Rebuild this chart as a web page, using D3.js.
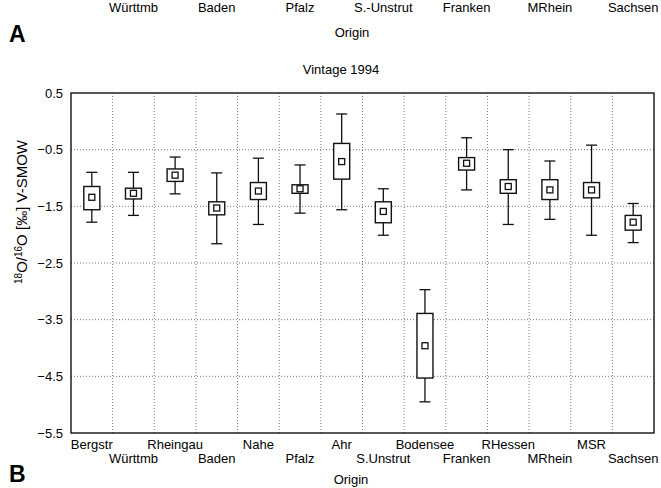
<!DOCTYPE html>
<html>
    <head>
        <script src="https://d3js.org/d3.v7.js"></script>
        <style>
            body { margin: 0; background: white; }
            svg { display: block; font-family: 'Liberation Sans', Arial, sans-serif; }
            .grid { stroke: #777; stroke-width: 1; stroke-dasharray: 1,2; }
        </style>
    </head>
    <body>
        <div class='graph'></div>
        <script>
            const w = 661
            const h = 488

            // box values (per mille V-SMOW)
            const origins = ['Bergstr', 'Württmb', 'Rheingau', 'Baden', 'Nahe', 'Pfalz', 'Ahr',
                             'S.Unstrut', 'Bodensee', 'Franken', 'RHessen', 'MRhein', 'MSR', 'Sachsen']
            const whiskerHigh = [-0.90, -0.90, -0.63, -0.91, -0.65, -0.77, 0.13, -1.19, -2.97, -0.29, -0.50, -0.70, -0.42, -1.45]
            const boxHigh     = [-1.15, -1.18, -0.84, -1.42, -1.08, -1.12, -0.39, -1.42, -3.39, -0.64, -1.03, -1.03, -1.08, -1.66]
            const medians     = [-1.34, -1.27, -0.95, -1.53, -1.23, -1.19, -0.71, -1.59, -3.96, -0.74, -1.15, -1.21, -1.21, -1.78]
            const boxLow      = [-1.56, -1.37, -1.06, -1.65, -1.38, -1.27, -1.02, -1.79, -4.53, -0.86, -1.27, -1.38, -1.35, -1.92]
            const whiskerLow  = [-1.78, -1.66, -1.28, -2.16, -1.82, -1.62, -1.56, -2.01, -4.95, -1.21, -1.82, -1.73, -2.01, -2.14]
            const yTicks = [0.5, -0.5, -1.5, -2.5, -3.5, -4.5, -5.5]

            // lower label row of panel A, cut off at the top of the picture
            const panelALabels = ['Württmb', 'Baden', 'Pfalz', 'S.-Unstrut', 'Franken', 'MRhein', 'Sachsen']

            const margin = {left: 71, right: 7, top: 93, bottom: 55}

            const svg = d3.select('.graph')
                    .append('svg')
                    .attr('width', w)
                    .attr('height', h)

            const x = d3.scaleBand()
                        .domain(origins)
                        .range([margin.left, w - margin.right])

            const y = d3.scaleLinear()
                        .domain([-5.5, 0.5])
                        .range([h - margin.bottom, margin.top])

            const data = origins.map((o, i) => ({
                origin: o, hi: whiskerHigh[i], q3: boxHigh[i], med: medians[i], q1: boxLow[i], lo: whiskerLow[i]
            }))

            // panel A remnants
            svg.selectAll('.alabel')
                .data(panelALabels)
                .enter()
                .append('text')
                .attr('x', (d, i) => x(origins[i * 2 + 1]) + x.bandwidth() / 2)
                .attr('y', 12)
                .attr('text-anchor', 'middle')
                .style('font-size', '13px')
                .text(d => d)

            svg.append('text').attr('x', 352).attr('y', 37)
                .attr('text-anchor', 'middle').style('font-size', '13px').text('Origin')
            svg.append('text').attr('x', 9).attr('y', 42)
                .style('font-size', '23px').style('font-weight', 'bold').text('A')

            // panel B
            svg.append('text').attr('x', 341).attr('y', 74)
                .attr('text-anchor', 'middle').style('font-size', '13px').text('Vintage 1994')

            // grid
            svg.selectAll('.hgrid')
                .data(yTicks.slice(1, -1))
                .enter()
                .append('line')
                .attr('class', 'grid')
                .attr('x1', margin.left).attr('x2', w - margin.right)
                .attr('y1', d => y(d)).attr('y2', d => y(d))

            svg.selectAll('.vgrid')
                .data(origins.slice(1))
                .enter()
                .append('line')
                .attr('class', 'grid')
                .attr('x1', d => x(d)).attr('x2', d => x(d))
                .attr('y1', margin.top).attr('y2', h - margin.bottom)

            // frame
            svg.append('rect')
                .attr('x', margin.left).attr('y', margin.top)
                .attr('width', w - margin.left - margin.right)
                .attr('height', h - margin.top - margin.bottom)
                .attr('fill', 'none').attr('stroke', '#111').attr('stroke-width', 1.4)

            // y axis labels
            svg.selectAll('.ytick')
                .data(yTicks)
                .enter()
                .append('text')
                .attr('x', margin.left - 8)
                .attr('y', d => y(d) + 4.5)
                .attr('text-anchor', 'end')
                .style('font-size', '13px')
                .text(d => d3.format('.1f')(d))

            const ylab = svg.append('text')
                .attr('transform', 'translate(27,' + 212 + ') rotate(-90)')
                .attr('text-anchor', 'middle')
                .style('font-size', '15px')
            ylab.append('tspan').attr('baseline-shift', 'super').style('font-size', '10px').text('18')
            ylab.append('tspan').text('O/')
            ylab.append('tspan').attr('baseline-shift', 'super').style('font-size', '10px').text('16')
            ylab.append('tspan').text('O [‰] V-SMOW')

            // x labels, two alternating rows
            svg.selectAll('.xlabel')
                .data(origins)
                .enter()
                .append('text')
                .attr('x', d => x(d) + x.bandwidth() / 2)
                .attr('y', (d, i) => i % 2 === 0 ? 449 : 463)
                .attr('text-anchor', 'middle')
                .style('font-size', '13px')
                .text(d => d)

            svg.append('text').attr('x', 351).attr('y', 484)
                .attr('text-anchor', 'middle').style('font-size', '13px').text('Origin')
            svg.append('text').attr('x', 9).attr('y', 482)
                .style('font-size', '23px').style('font-weight', 'bold').text('B')

            // boxes
            const boxW = 16
            const capW = 11
            const sq = 6
            const box = svg.selectAll('.box')
                .data(data)
                .enter()
                .append('g')
                .attr('transform', d => 'translate(' + (x(d.origin) + x.bandwidth() / 2) + ',0)')

            box.append('line')
                .attr('x1', 0).attr('x2', 0)
                .attr('y1', d => y(d.hi)).attr('y2', d => y(d.lo))
                .attr('stroke', '#111').attr('stroke-width', 1.3)

            box.append('line')
                .attr('x1', -capW / 2).attr('x2', capW / 2)
                .attr('y1', d => y(d.hi)).attr('y2', d => y(d.hi))
                .attr('stroke', '#111').attr('stroke-width', 1.3)

            box.append('line')
                .attr('x1', -capW / 2).attr('x2', capW / 2)
                .attr('y1', d => y(d.lo)).attr('y2', d => y(d.lo))
                .attr('stroke', '#111').attr('stroke-width', 1.3)

            box.append('rect')
                .attr('x', -boxW / 2).attr('width', boxW)
                .attr('y', d => y(d.q3))
                .attr('height', d => y(d.q1) - y(d.q3))
                .attr('fill', 'white').attr('stroke', '#111').attr('stroke-width', 1.4)

            box.append('rect')
                .attr('x', -sq / 2).attr('width', sq)
                .attr('y', d => y(d.med) - sq / 2).attr('height', sq)
                .attr('fill', 'white').attr('stroke', '#111').attr('stroke-width', 1.3)
        </script>
    </body>
</html>
